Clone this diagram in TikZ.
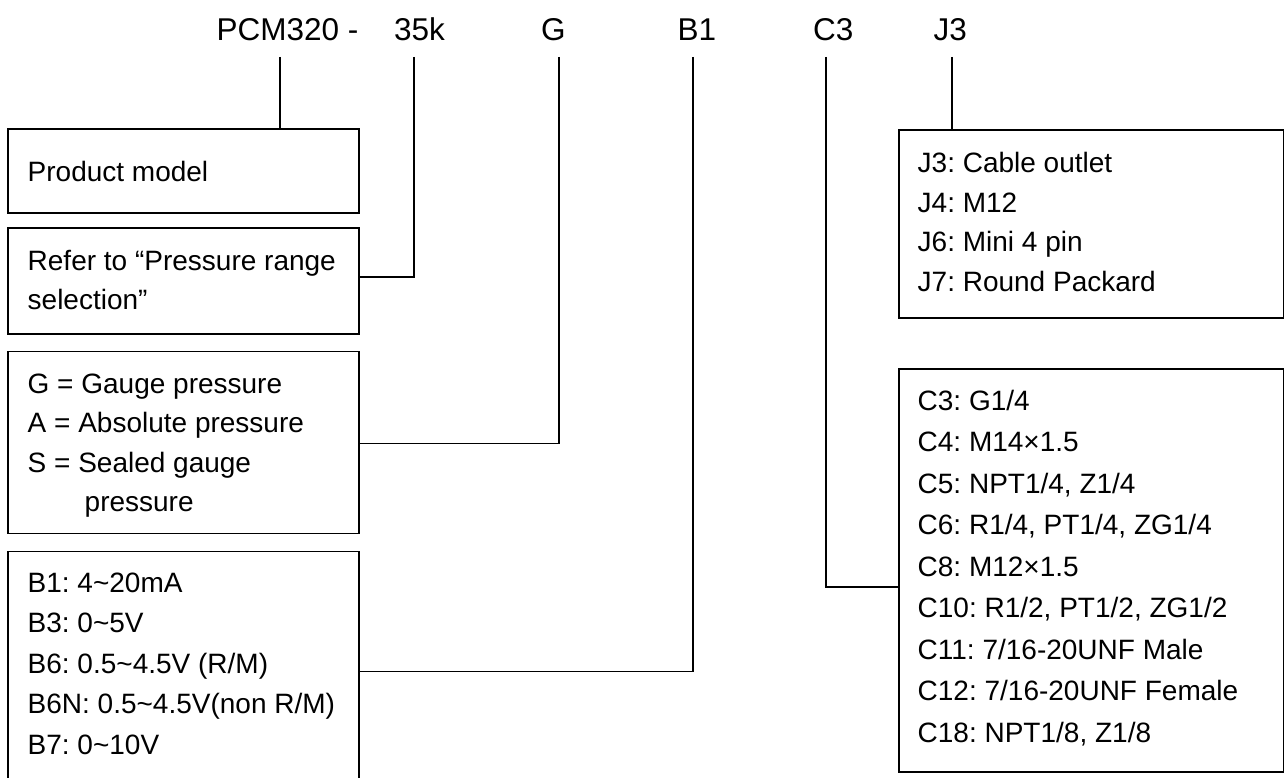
\documentclass[tikz,border=0pt]{standalone}
\usepackage{fontspec}
\setmainfont{Liberation Sans}
\frenchspacing
\begin{document}
\frenchspacing
\begin{tikzpicture}[x=1pt,y=-1pt,
  conn/.style={line width=1.7pt, black},
  box/.style={draw, line width=1.7pt, rectangle, inner sep=0pt, anchor=north west},
  txt/.style={anchor=base west, inner sep=0pt, font=\fontsize{28}{34}\selectfont\frenchspacing},
  toplab/.style={anchor=base west, inner sep=0pt, font=\fontsize{31.5}{38}\selectfont}]
\useasboundingbox (0,0) rectangle (1284,778);

% top code labels
\node[toplab] (lp) at (216.5,40.7) {PCM320 -};
\node[toplab] (lr) at (394,40.7) {35k};
\node[toplab] (lg) at (541,40.7) {G};
\node[toplab] (lb) at (677.5,40.7) {B1};
\node[toplab] (lc) at (813,40.7) {C3};
\node[toplab] (lj) at (933.5,40.7) {J3};

% line tops
\coordinate (tp) at (280,57);
\coordinate (tr) at (414,57);
\coordinate (tg) at (559,57);
\coordinate (tb) at (693,57);
\coordinate (tc) at (826,57);
\coordinate (tj) at (952,57);

% boxes
\node[box, minimum width=351pt, minimum height=84pt] (pm) at (7,128) {};
\node[box, minimum width=351pt, minimum height=106pt] (pr) at (7,227) {};
\node[box, minimum width=351pt, minimum height=182pt] (gs) at (7,350.7) {};
\node[box, minimum width=351pt, minimum height=240pt] (bs) at (7,550.7) {};
\node[box, minimum width=384.5pt, minimum height=188pt] (js) at (898,129) {};
\node[box, minimum width=384.5pt, minimum height=403pt] (cs) at (898,368) {};

% box texts
\node[txt] (pm1) at (27.5,182) {Product model};
\node[txt] (pr1) at (27.5,270) {Refer to “Pressure range};
\node[txt] (pr2) at (27.5,309) {selection”};
\node[txt] (gs1) at (27.5,393) {G = Gauge pressure};
\node[txt] (gs2) at (27.5,432.5) {A = Absolute pressure};
\node[txt] (gs3) at (27.5,472) {S = Sealed gauge};
\node[txt] (gs4) at (84.5,511.5) {pressure};

\foreach \t [count=\i from 0] in {{B1: 4\textasciitilde 20mA},{B3: 0\textasciitilde 5V},{B6: 0.5\textasciitilde 4.5V (R/M)},{B6N: 0.5\textasciitilde 4.5V(non R/M)},{B7: 0\textasciitilde 10V}}
  \node[txt] (b\i) at (27.5,{592+40.5*\i}) {\t};

\foreach \t [count=\i from 0] in {{J3: Cable outlet},{J4: M12},{J6: Mini 4 pin},{J7: Round Packard}}
  \node[txt] (j\i) at (917.5,{172.7+39.5*\i}) {\t};

\foreach \t [count=\i from 0] in {{C3: G1/4},{C4: M14×1.5},{C5: NPT1/4, Z1/4},{C6: R1/4, PT1/4, ZG1/4},{C8: M12×1.5},{C10: R1/2, PT1/2, ZG1/2},{C11: 7/16-20UNF Male},{C12: 7/16-20UNF Female},{C18: NPT1/8, Z1/8}}
  \node[txt] (c\i) at (917.5,{410+41.5*\i}) {\t};

% connectors
\draw[conn] (tp) -- (tp |- pm.north);
\draw[conn] (tr) |- ([yshift=4pt]pr.east);
\draw[conn] (tg) |- ([yshift=-1pt]gs.east);
\draw[conn] (tb) |- (bs.east);
\draw[conn] (tc) |- ([yshift=-16.5pt]cs.west);
\draw[conn] (tj) -- (tj |- js.north);
\end{tikzpicture}
\end{document}
